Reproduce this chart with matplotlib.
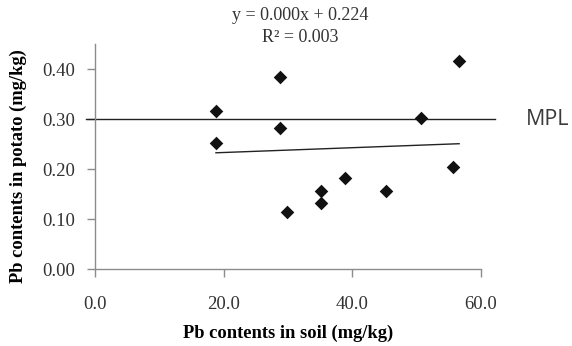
import numpy as np
import matplotlib.pyplot as plt

# Pb in soil vs Pb in potato (mg/kg)
soil_pb = [18.8, 18.8, 28.8, 28.8, 29.8, 35.2, 35.2, 38.8, 45.2, 50.6, 56.6, 55.6]
potato_pb = [0.317, 0.252, 0.384, 0.282, 0.115, 0.133, 0.157, 0.182, 0.157, 0.302, 0.417, 0.205]

# linear trend shown as y = 0.000x + 0.224
trend_slope = 0.00048
trend_intercept = 0.224
mpl_value = 0.30

x_ticks = [0, 20, 40, 60]
y_ticks = [0.0, 0.1, 0.2, 0.3, 0.4]

serif = 'Liberation Serif'
axis_grey = '#8c8c8c'
text_grey = '#333333'

fig = plt.figure(figsize=(5.72, 3.46), dpi=100)
ax = fig.add_axes([95 / 572, 76.7 / 346, (481 - 95) / 572, (269.3 - 44.3) / 346])

ax.scatter(soil_pb, potato_pb, marker='D', s=48, color='#111111', zorder=3, linewidths=0)

# trendline over the data range
xt = np.array([min(soil_pb), max(soil_pb)])
ax.plot(xt, trend_intercept + trend_slope * xt, color='#222222', lw=1.0, zorder=2)

# maximum permissible level
ax.plot([-1.4, 62.2], [mpl_value, mpl_value], color='#222222', lw=1.0, clip_on=False, zorder=2)
ax.text(67.0, mpl_value, 'MPL', fontsize=15.5, family='Open Sans', color='#3a3a3a',
        va='center', ha='left')

ax.set_xlim(0, 60)
ax.set_ylim(0, 0.45)
ax.set_xticks(x_ticks)
ax.set_yticks(y_ticks)
ax.set_xticklabels([f'{v:.1f}' for v in x_ticks], family=serif, fontsize=13.5, color=text_grey)
ax.set_yticklabels([f'{v:.2f}' for v in y_ticks], family=serif, fontsize=13.5, color=text_grey)
ax.tick_params(axis='x', direction='out', length=6, width=1, color=axis_grey, pad=13)
ax.tick_params(axis='y', direction='out', length=6, width=1, color=axis_grey, pad=8)

for side in ['top', 'right']:
    ax.spines[side].set_visible(False)
for side in ['left', 'bottom']:
    ax.spines[side].set_color(axis_grey)
    ax.spines[side].set_linewidth(1.0)

ax.set_xlabel('Pb contents in soil (mg/kg)', family=serif, fontweight='bold', fontsize=13.3)
ax.set_ylabel('Pb contents in potato (mg/kg)', family=serif, fontweight='bold', fontsize=13.3)
ax.xaxis.set_label_coords(0.5, -(333 - 269.3) / 225)
ax.yaxis.set_label_coords((18 - 95) / 386, (269.3 - 166) / 225)
ax.xaxis.label.set_va('center')
ax.yaxis.label.set_va('center')

fig.text(300 / 572, 1 - 16 / 346, 'y = 0.000x + 0.224', family=serif, fontsize=13,
         ha='center', va='center', color=text_grey)
fig.text(300 / 572, 1 - 37 / 346, 'R² = 0.003', family=serif, fontsize=13,
         ha='center', va='center', color=text_grey)

fig.savefig('out.png', dpi=100)
